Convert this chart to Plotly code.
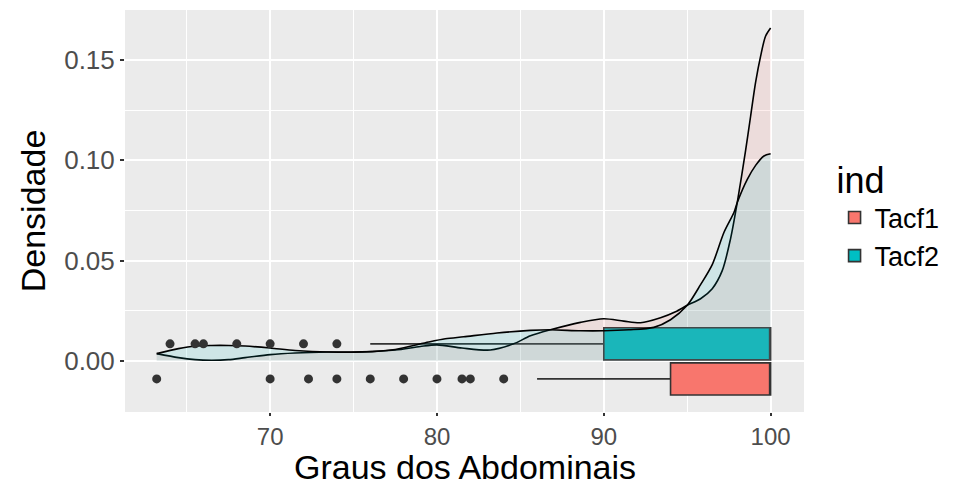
import plotly.graph_objects as go

# ---- data ----
groups = ["Tacf1", "Tacf2"]

dens_x_tacf1 = [63.2, 64.5, 65.5, 66.5, 67.5, 68.5, 70.0, 71.5, 73.5, 75.5, 77.5, 79.0, 80.0,
                81.5, 83.2, 84.6, 85.6, 86.8, 88.6, 90.0, 91.2, 92.2, 93.4, 94.3, 95.0, 95.8,
                96.5, 97.1, 97.6, 98.0, 98.5, 98.8, 99.1, 99.4, 99.7, 100.0]
dens_y_tacf1 = [0.0036, 0.0016, 0.0006, 0.0003, 0.0006, 0.0016, 0.0031, 0.0039, 0.0044, 0.0045,
                0.0054, 0.0072, 0.0080, 0.0064, 0.0054, 0.0085, 0.0125, 0.0155, 0.0192, 0.0210,
                0.0198, 0.0190, 0.0215, 0.0245, 0.0277, 0.0310, 0.0360, 0.0450, 0.0610, 0.0790,
                0.1050, 0.1220, 0.1390, 0.1520, 0.1620, 0.1660]

dens_x_tacf2 = [63.2, 64.5, 65.5, 66.5, 67.5, 68.5, 70.0, 71.5, 73.5, 75.5, 77.5, 79.5, 80.5,
                81.6, 83.6, 85.6, 86.8, 88.6, 90.0, 91.5, 93.0, 94.0, 95.0, 95.8, 96.5, 97.2,
                97.8, 98.0, 98.6, 99.1, 99.6, 100.0]
dens_y_tacf2 = [0.0036, 0.0061, 0.0074, 0.0077, 0.0077, 0.0074, 0.0064, 0.0052, 0.0044, 0.0044,
                0.0057, 0.0094, 0.0110, 0.0120, 0.0139, 0.0152, 0.0155, 0.0150, 0.0150, 0.0155,
                0.0167, 0.0205, 0.0277, 0.0380, 0.0480, 0.0640, 0.0740, 0.0790, 0.0905, 0.0975,
                0.1022, 0.1033]

# box statistics: q1, median, q3, lower whisker, upper whisker
box_q1 = [94, 90]
box_median = [100, 100]
box_q3 = [100, 100]
box_low = [86, 76]
box_high = [100, 100]
box_pos = [-0.009, 0.0085]      # vertical placement of each box
box_height = 0.016

outliers_tacf1 = [63.2, 70, 72.3, 74, 76, 78, 80, 81.5, 82, 84]
outliers_tacf2 = [64, 65.5, 66, 68, 70, 72, 74]

x_ticks = [70, 80, 90, 100]
y_ticks = [0.00, 0.05, 0.10, 0.15]
y_tick_labels = ["0.00", "0.05", "0.10", "0.15"]
x_title = "Graus dos Abdominais"
y_title = "Densidade"

line_colors = {"Tacf1": "#F8766D", "Tacf2": "#00BFC4"}
fill_colors = {"Tacf1": "rgba(248,118,109,0.12)", "Tacf2": "rgba(0,191,196,0.12)"}

dens = {"Tacf1": (dens_x_tacf1, dens_y_tacf1), "Tacf2": (dens_x_tacf2, dens_y_tacf2)}
outs = {"Tacf1": outliers_tacf1, "Tacf2": outliers_tacf2}

fig = go.Figure()

for g in groups:
    xs, ys = dens[g]
    fig.add_trace(go.Scatter(
        x=xs, y=ys, mode="lines", fill="tozeroy", fillcolor=fill_colors[g],
        line=dict(color="black", width=1.6, shape="spline", smoothing=0.8),
        showlegend=False, hoverinfo="skip"))

for i, g in enumerate(groups):
    fig.add_trace(go.Box(
        name=g, orientation="h", y=[box_pos[i]],
        q1=[box_q1[i]], median=[box_median[i]], q3=[box_q3[i]],
        lowerfence=[box_low[i]], upperfence=[box_high[i]],
        width=box_height, whiskerwidth=0, boxpoints=False,
        fillcolor=line_colors[g], line=dict(color="#333333", width=1.6),
        showlegend=True))

for i, g in enumerate(groups):
    fig.add_trace(go.Scatter(
        x=outs[g], y=[box_pos[i]] * len(outs[g]), mode="markers",
        marker=dict(color="#333333", size=9), showlegend=False, hoverinfo="skip"))

FAM = "Liberation Sans, Arial, sans-serif"
tick_font_x = dict(family=FAM, size=24, color="#4D4D4D")
tick_font_y = dict(family=FAM, size=26, color="#4D4D4D")
title_font = dict(family=FAM, size=34, color="black")

H = 489
MT, MB = 10, 77
plot_h = H - MT - MB

fig.update_layout(
    width=967, height=H,
    margin=dict(l=125, r=163, t=MT, b=MB, autoexpand=False),
    paper_bgcolor="white", plot_bgcolor="#EBEBEB",
    boxmode="overlay",
    legend=dict(
        title=dict(text="ind", font=dict(family=FAM, size=36, color="black")),
        font=dict(family=FAM, size=27, color="black"),
        x=1.045, xanchor="left", y=0.66, yanchor="top",
        bgcolor="rgba(0,0,0,0)", tracegroupgap=0),
    xaxis=dict(
        range=[61.3, 102.0], tickvals=x_ticks, ticks="outside", ticklen=3,
        tickcolor="#333333", tickwidth=1.5, tickfont=tick_font_x, automargin=False,
        showgrid=True, gridcolor="white", gridwidth=1.6, zeroline=False, showline=False,
        minor=dict(dtick=5, tick0=0, showgrid=True, gridcolor="white", gridwidth=0.8, ticks="")),
    yaxis=dict(
        range=[-0.0255, 0.175], tickvals=y_ticks, ticktext=y_tick_labels, ticks="outside",
        ticklen=4, tickcolor="#333333", tickwidth=1.5, tickfont=tick_font_y, automargin=False,
        showgrid=True, gridcolor="white", gridwidth=1.6, zeroline=False, showline=False,
        minor=dict(dtick=0.025, tick0=0, showgrid=True, gridcolor="white", gridwidth=0.8, ticks=""),
        title=dict(text=y_title, font=title_font, standoff=8)),
    annotations=[dict(
        text=x_title, font=title_font, showarrow=False,
        xref="paper", x=0.5, xanchor="center",
        yref="paper", y=-(MB - 1) / plot_h, yanchor="bottom")],
)

fig.write_html("out.html")
